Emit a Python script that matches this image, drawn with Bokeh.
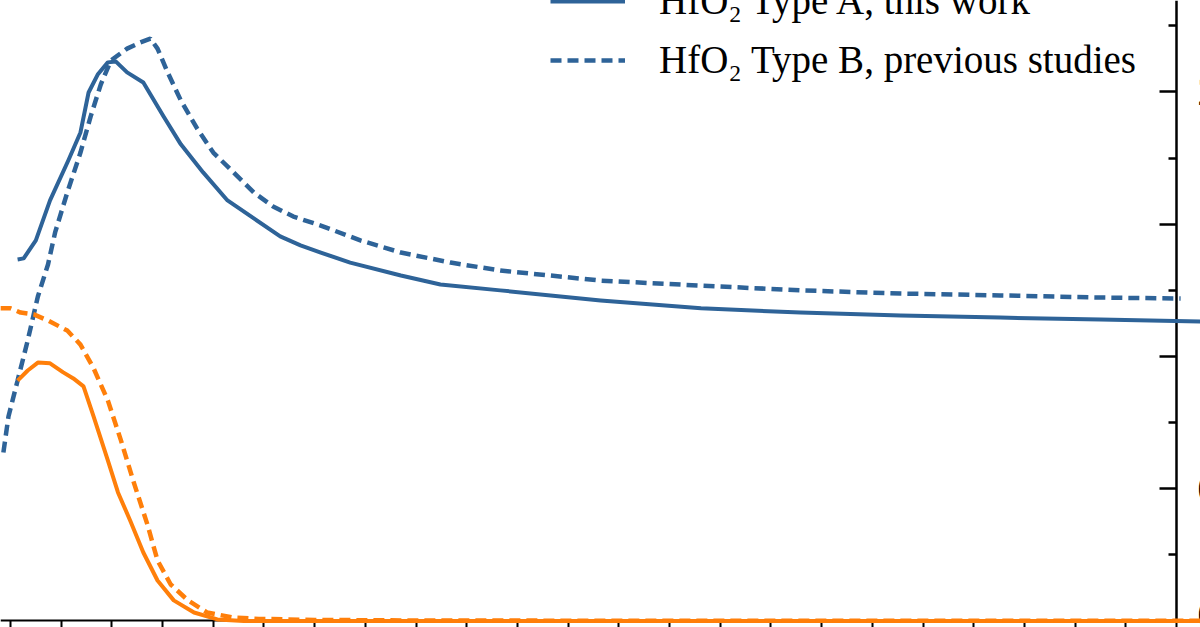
from bokeh.plotting import figure
from bokeh.models import Range1d, LinearAxis, FixedTicker, Legend, LegendItem
from bokeh.embed import file_html
from bokeh.resources import INLINE

# ---- data (wavelength in nm) ----
# refractive index, HfO2 type A (this work)
a_wl = [207, 213, 225, 239, 257, 269, 277, 286, 296, 304, 315, 331, 351, 368, 390,
        414, 440, 466, 486, 506, 535, 585, 624, 683, 782, 881, 979, 1078, 1176, 1275, 1380]
a_n = [1.367, 1.371, 1.439, 1.590, 1.741, 1.847, 1.998, 2.066, 2.112, 2.115, 2.074,
       2.036, 1.907, 1.802, 1.696, 1.590, 1.522, 1.454, 1.420, 1.393, 1.355, 1.306,
       1.272, 1.250, 1.212, 1.182, 1.166, 1.155, 1.147, 1.140, 1.132]
# refractive index, HfO2 type B (previous studies)
b_wl = [193, 198, 207, 217, 227, 237, 244, 256, 269, 279, 289, 299, 315, 328, 338,
        345, 355, 368, 384, 400, 420, 440, 459, 479, 506, 545, 585, 634, 683, 782,
        881, 979, 1078, 1176, 1275, 1354]
b_n = [0.637, 0.773, 0.909, 1.061, 1.227, 1.348, 1.469, 1.620, 1.771, 1.907, 2.028,
       2.119, 2.164, 2.187, 2.202, 2.164, 2.074, 1.968, 1.862, 1.771, 1.696, 1.620,
       1.567, 1.529, 1.495, 1.439, 1.393, 1.355, 1.325, 1.287, 1.268, 1.250, 1.238,
       1.231, 1.223, 1.219]
# extinction coefficient, type A
ka_wl = [207, 217, 227, 239, 252, 262, 272, 282, 296, 306, 318, 331, 345, 361, 381,
         404, 430, 500, 700, 1000, 1380]
ka = [0.909, 0.947, 0.977, 0.974, 0.940, 0.917, 0.887, 0.773, 0.607, 0.486, 0.380,
      0.259, 0.153, 0.078, 0.032, 0.006, 0.0, 0.0, 0.0, 0.0, 0.0]
# extinction coefficient, type B
kb_wl = [190, 200, 210, 223, 237, 256, 269, 282, 296, 309, 321, 335, 345, 358, 375,
         394, 420, 445, 500, 600, 800, 1380]
kb = [1.182, 1.182, 1.166, 1.159, 1.136, 1.098, 1.045, 0.955, 0.834, 0.682, 0.531,
      0.365, 0.229, 0.138, 0.078, 0.032, 0.013, 0.008, 0.004, 0.002, 0.001, 0.001]

x_major_ticks = [200, 300, 400, 500, 600, 700, 800, 900, 1000, 1100, 1200, 1300]
x_minor_ticks = [150, 250, 350, 450, 550, 650, 750, 850, 950, 1050, 1150, 1250, 1350]
y_major_ticks = [0.0, 0.5, 1.0, 1.5, 2.0, 2.5]
y_minor_ticks = [0.25, 0.75, 1.25, 1.75, 2.25]

label_a = "HfO\u2082 Type A, this work"
label_b = "HfO\u2082 Type B, previous studies"

BLUE = "#2e6398"
ORANGE = "#ff7f0a"
FONT = "Liberation Serif"

p = figure(width=1200, height=627, output_backend="svg", toolbar_location=None,
           x_range=Range1d(190.14, 1373.6), y_range=Range1d(-0.0246, 2.3459),
           x_axis_location=None, y_axis_location=None, min_border=0,
           background_fill_color="white", border_fill_color="white",
           outline_line_color=None)
p.xgrid.visible = False
p.ygrid.visible = False

xax = LinearAxis(fixed_location=0.0, bounds=(150, 1350),
                 ticker=FixedTicker(ticks=x_major_ticks, minor_ticks=x_minor_ticks),
                 axis_line_width=2, axis_line_color="black",
                 major_tick_in=0, major_tick_out=10, minor_tick_in=0, minor_tick_out=10,
                 major_tick_line_width=2, minor_tick_line_width=2,
                 major_tick_line_color="black", minor_tick_line_color="black",
                 major_label_text_color=None, level="underlay")
p.add_layout(xax, "below")

yax = LinearAxis(fixed_location=1350, bounds=(0, 2.5),
                 ticker=FixedTicker(ticks=y_major_ticks, minor_ticks=y_minor_ticks),
                 axis_line_width=2.5, axis_line_color="black",
                 major_tick_in=17, major_tick_out=0, minor_tick_in=8, minor_tick_out=0,
                 major_tick_line_width=2.5, minor_tick_line_width=2.5,
                 major_tick_line_color="black", minor_tick_line_color="black",
                 major_label_text_font=FONT, major_label_text_font_size="39px",
                 major_label_text_color="black", major_label_standoff=21,
                 level="underlay")
p.add_layout(yax, "right")

ra = p.line(a_wl, a_n, line_color=BLUE, line_width=4, line_join="round")
rb = p.line(b_wl, b_n, line_color=BLUE, line_width=4.5, line_dash="11 6")
p.line(ka_wl, ka, line_color=ORANGE, line_width=4, line_join="round")
p.line(kb_wl, kb, line_color=ORANGE, line_width=4.5, line_dash="11 6")

legend = Legend(items=[LegendItem(label=label_a, renderers=[ra]),
                       LegendItem(label=label_b, renderers=[rb])],
                location=(540, 535), glyph_width=75, glyph_height=20,
                label_standoff=34, spacing=14, padding=10, margin=0,
                label_text_font=FONT, label_text_font_size="39px",
                label_text_color="black",
                background_fill_alpha=0, border_line_alpha=0)
p.add_layout(legend)

open("out.html", "w").write(file_html(p, INLINE))
